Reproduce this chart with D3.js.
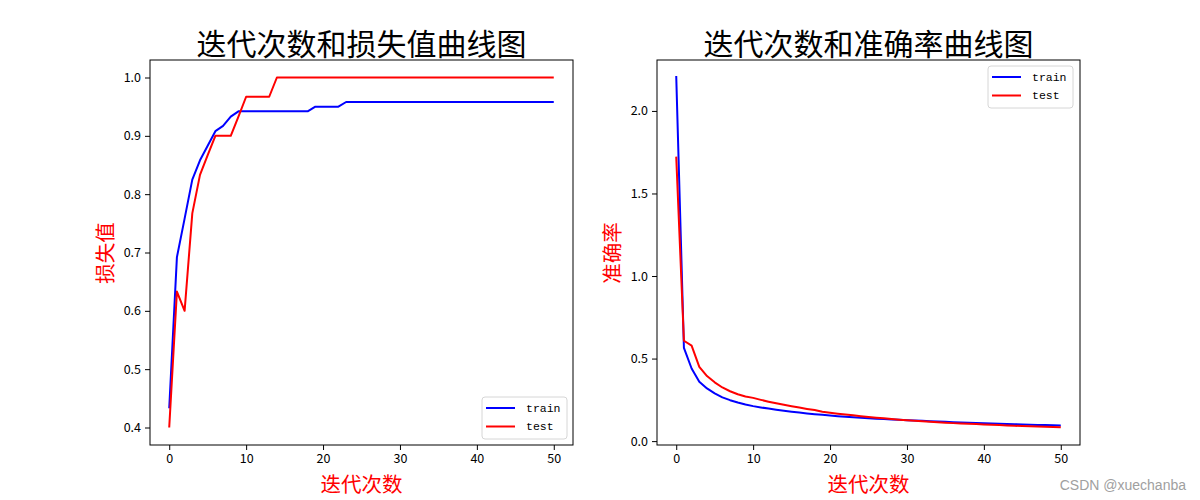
<!DOCTYPE html>
<html>
<head>
<meta charset="utf-8">
<script src="https://cdn.jsdelivr.net/npm/d3@7"></script>
<style>
  body { margin: 0; background: #fff; }
  svg text { font-family: "Noto Sans CJK SC", sans-serif; }
</style>
</head>
<body>
<figure style="margin:0"></figure>
<script>
// epochs 0..50
var epochs = d3.range(0, 51);

// left panel: accuracy-like values (titled 损失值)
var accTrain = [0.433, 0.692, 0.758, 0.825, 0.858, 0.883, 0.908, 0.917, 0.933, 0.942,
  0.942, 0.942, 0.942, 0.942, 0.942, 0.942, 0.942, 0.942, 0.942, 0.950,
  0.950, 0.950, 0.950, 0.958, 0.958, 0.958, 0.958, 0.958, 0.958, 0.958,
  0.958, 0.958, 0.958, 0.958, 0.958, 0.958, 0.958, 0.958, 0.958, 0.958,
  0.958, 0.958, 0.958, 0.958, 0.958, 0.958, 0.958, 0.958, 0.958, 0.958, 0.958];
var accTest = [0.400, 0.633, 0.600, 0.767, 0.833, 0.867, 0.900, 0.900, 0.900, 0.933,
  0.967, 0.967, 0.967, 0.967, 1.000, 1.000, 1.000, 1.000, 1.000, 1.000,
  1.000, 1.000, 1.000, 1.000, 1.000, 1.000, 1.000, 1.000, 1.000, 1.000,
  1.000, 1.000, 1.000, 1.000, 1.000, 1.000, 1.000, 1.000, 1.000, 1.000,
  1.000, 1.000, 1.000, 1.000, 1.000, 1.000, 1.000, 1.000, 1.000, 1.000, 1.000];

// right panel: loss-like values (titled 准确率)
var lossTrain = [2.212, 0.565, 0.440, 0.360, 0.319, 0.289, 0.265, 0.248, 0.234, 0.222,
  0.212, 0.204, 0.197, 0.190, 0.184, 0.178, 0.173, 0.168, 0.163, 0.159,
  0.155, 0.151, 0.148, 0.145, 0.142, 0.139, 0.136, 0.134, 0.131, 0.129,
  0.127, 0.125, 0.123, 0.121, 0.119, 0.117, 0.115, 0.113, 0.111, 0.110,
  0.108, 0.107, 0.105, 0.104, 0.102, 0.101, 0.099, 0.098, 0.097, 0.096, 0.095];
var lossTest = [1.723, 0.608, 0.578, 0.450, 0.394, 0.356, 0.325, 0.302, 0.284, 0.270,
  0.262, 0.250, 0.239, 0.229, 0.220, 0.211, 0.203, 0.195, 0.188, 0.178,
  0.172, 0.166, 0.161, 0.156, 0.151, 0.146, 0.142, 0.138, 0.134, 0.130,
  0.126, 0.123, 0.120, 0.117, 0.114, 0.112, 0.109, 0.107, 0.105, 0.103,
  0.101, 0.099, 0.097, 0.095, 0.093, 0.091, 0.090, 0.088, 0.087, 0.085, 0.084];

var xTicks = [0, 10, 20, 30, 40, 50];
var leftYTicks = [0.4, 0.5, 0.6, 0.7, 0.8, 0.9, 1.0];
var rightYTicks = [0.0, 0.5, 1.0, 1.5, 2.0];
var seriesNames = ["train", "test"];
var colors = ["#0000ff", "#ff0000"];

var W = 1200, H = 500;
var svg = d3.select("figure").append("svg")
    .attr("width", W)
    .attr("height", H);

function panel(opt) {
    var x = d3.scaleLinear().domain([-2.5, 52.5]).range([opt.left, opt.right]);
    var y = d3.scaleLinear().domain(opt.ydom).range([445, 60]);
    var g = svg.append("g");

    var line = d3.line()
        .x(function(d, i) { return x(epochs[i]); })
        .y(function(d) { return y(d); });

    [opt.a, opt.b].forEach(function(s, k) {
        g.append("path")
            .datum(s)
            .attr("fill", "none")
            .attr("stroke", colors[k])
            .attr("stroke-width", 2)
            .attr("stroke-linejoin", "round")
            .attr("d", line);
    });

    // axes
    var xa = g.append("g")
        .attr("transform", "translate(0,445)")
        .call(d3.axisBottom(x).tickValues(xTicks).tickSize(5).tickPadding(4).tickSizeOuter(0));
    var ya = g.append("g")
        .attr("transform", "translate(" + opt.left + ",0)")
        .call(d3.axisLeft(y).tickValues(opt.yticks).tickFormat(d3.format(".1f")).tickSize(5).tickPadding(4).tickSizeOuter(0));
    [xa, ya].forEach(function(a) {
        a.select(".domain").remove();
        a.selectAll("text").attr("font-size", 12.5).attr("fill", "#000")
            .style("font-family", "'Noto Sans CJK SC', sans-serif");
        a.selectAll("line").attr("stroke", "#000");
    });

    g.append("rect")
        .attr("x", opt.left).attr("y", 60)
        .attr("width", opt.right - opt.left).attr("height", 385)
        .attr("fill", "none").attr("stroke", "#000").attr("stroke-width", 1);

    var cx = (opt.left + opt.right) / 2;
    g.append("text").attr("x", cx).attr("y", 42)
        .attr("text-anchor", "middle").attr("dominant-baseline", "central")
        .attr("font-size", 30).attr("fill", "#000").text(opt.title);
    g.append("text").attr("x", cx).attr("y", 483)
        .attr("text-anchor", "middle").attr("dominant-baseline", "central")
        .attr("font-size", 20.5).attr("fill", "#ff0000").text("迭代次数");
    g.append("text")
        .attr("transform", "translate(" + (opt.left - 46) + ",253) rotate(-90)")
        .attr("text-anchor", "middle").attr("dominant-baseline", "central")
        .attr("font-size", 20.5).attr("fill", "#ff0000").text(opt.ylabel);

    // legend
    var lg = g.append("g").attr("transform", "translate(" + opt.lx + "," + opt.ly + ")");
    lg.append("rect").attr("x", 0).attr("y", 0).attr("width", 85).attr("height", 42)
        .attr("rx", 3).attr("fill", "#fff").attr("fill-opacity", 0.8)
        .attr("stroke", "#d6d6d6").attr("stroke-width", 1);
    seriesNames.forEach(function(n, k) {
        var yy = 11 + k * 18.5;
        lg.append("line").attr("x1", 4).attr("x2", 33).attr("y1", yy).attr("y2", yy)
            .attr("stroke", colors[k]).attr("stroke-width", 2);
        lg.append("text").attr("x", 44).attr("y", yy).attr("dominant-baseline", "central")
            .attr("font-size", 11.5).style("font-family", "'Liberation Mono', monospace")
            .attr("fill", "#000").text(n);
    });
}

panel({left: 150, right: 573, ydom: [0.37, 1.03], yticks: leftYTicks,
       a: accTrain, b: accTest, title: "迭代次数和损失值曲线图", ylabel: "损失值",
       lx: 482, ly: 397});
panel({left: 657, right: 1080, ydom: [-0.0235, 2.3085], yticks: rightYTicks,
       a: lossTrain, b: lossTest, title: "迭代次数和准确率曲线图", ylabel: "准确率",
       lx: 988, ly: 66});

svg.append("text").attr("x", 1186).attr("y", 485)
    .attr("text-anchor", "end").attr("dominant-baseline", "central")
    .attr("font-size", 14).attr("fill", "#a0a0a0")
    .style("font-family", "'Liberation Sans', Arial, sans-serif")
    .text("CSDN @xuechanba");
</script>
</body>
</html>
